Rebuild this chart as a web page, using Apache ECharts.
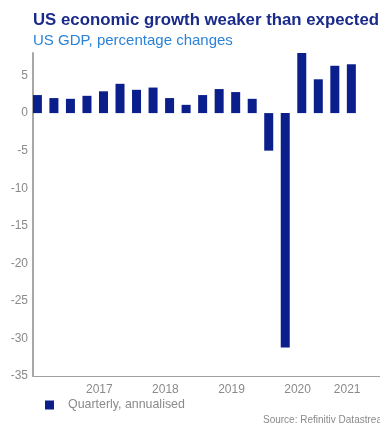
<!DOCTYPE html>
<html>
<head>
<meta charset="utf-8">
<script src="https://cdn.jsdelivr.net/npm/echarts@6/dist/echarts.min.js"></script>
<style>
html,body{margin:0;padding:0;background:#fff;}
#chart{width:380px;height:423px;}
</style>
</head>
<body>
<div id="chart"></div>
<script>
// Quarters from 2016 Q3 to 2021 Q2 (plus one empty slot at the right end of the axis)
var quarters = ['2016Q3','2016Q4','2017Q1','2017Q2','2017Q3','2017Q4','2018Q1','2018Q2','2018Q3','2018Q4',
                '2019Q1','2019Q2','2019Q3','2019Q4','2020Q1','2020Q2','2020Q3','2020Q4','2021Q1','2021Q2','2021Q3'];
// US GDP, quarterly annualised % change
var gdpValues = [2.4, 2.0, 1.9, 2.3, 2.9, 3.9, 3.1, 3.4, 2.0, 1.1,
                 2.4, 3.2, 2.8, 1.9, -5.0, -31.2, 33.4, 4.5, 6.3, 6.5, null];
// Year labels shown along the x axis (keyed by quarter)
var yearLabels = {'2017Q2':'2017','2018Q2':'2018','2019Q2':'2019','2020Q2':'2020','2021Q1':'2021'};
// Year boundary ticks (first quarter of each year)
var yearTicks = ['2017Q1','2018Q1','2019Q1','2020Q1','2021Q1'];
var yTicks = [-35, -30, -25, -20, -15, -10, -5, 0, 5];

var FONT = 'Liberation Sans, Arial, sans-serif';
var chart = echarts.init(document.getElementById('chart'));
chart.setOption({
  animation: false,
  title: {
    text: 'US economic growth weaker than expected',
    subtext: 'US GDP, percentage changes',
    left: 33, top: 12, padding: 0, itemGap: 4,
    textStyle: {fontFamily: FONT, fontSize: 16.8, fontWeight: 'bold', color: '#1a2a8a'},
    subtextStyle: {fontFamily: FONT, fontSize: 15, color: '#2b82d6'}
  },
  legend: {
    data: ['Quarterly, annualised'],
    left: 45, top: 399, padding: 0,
    itemWidth: 9, itemHeight: 9, icon: 'rect',
    textStyle: {fontFamily: FONT, fontSize: 12.4, color: '#8a8a8a', padding: [0,0,0,9]}
  },
  grid: {left: 33, top: 53, width: 352, height: 323, containLabel: false},
  xAxis: {
    type: 'category',
    data: quarters,
    boundaryGap: true,
    axisLine: {onZero: false, lineStyle: {color: '#a0a0a0', width: 1}},
    axisTick: {
      length: 3, lineStyle: {color: '#a0a0a0', width: 1},
      interval: function (i, v) { return yearTicks.indexOf(v) >= 0; }
    },
    axisLabel: {
      interval: 0, fontFamily: FONT, fontSize: 12, color: '#8a8a8a', margin: 8,
      padding: [0,0,0,17],
      formatter: function (v) { return yearLabels[v] || ''; }
    },
    splitLine: {show: false}
  },
  yAxis: {
    type: 'value',
    min: -35, max: 8, interval: 5,
    axisLine: {show: true, lineStyle: {color: '#a8a8a8', width: 2}},
    axisTick: {show: false},
    axisLabel: {fontFamily: FONT, fontSize: 12, color: '#8a8a8a', margin: 5, showMaxLabel: false,
                padding: [4,0,0,0]},
    splitLine: {show: false}
  },
  series: [
    {
      name: 'Quarterly, annualised',
      type: 'bar',
      data: gdpValues,
      barWidth: 9,
      barGap: '-14%',
      clip: true,
      itemStyle: {color: '#0a1f8c'}
    },
    {
      name: 'spacer',
      type: 'bar',
      data: [],
      barWidth: 9
    }
  ],
  graphic: [{
    type: 'text', left: 263, top: 415,
    style: {text: 'Source: Refinitiv Datastream', fontFamily: FONT, fontSize: 10, fill: '#8a8a8a'}
  }]
});
</script>
</body>
</html>
